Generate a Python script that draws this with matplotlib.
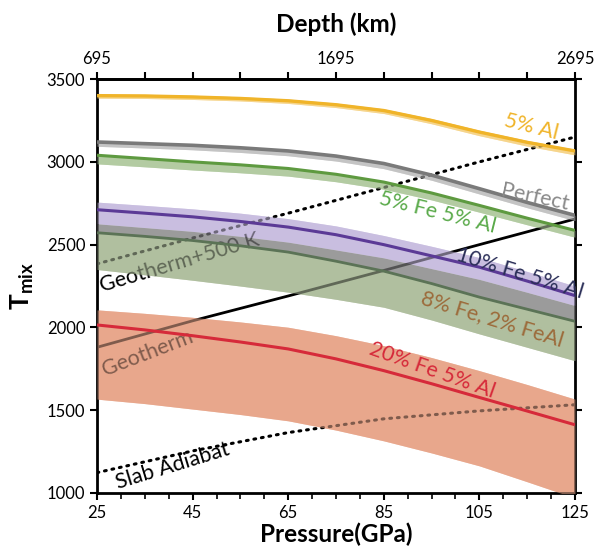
import numpy as np
import matplotlib
matplotlib.use("Agg")
import matplotlib.pyplot as plt

plt.rcParams["font.family"] = ["Lato", "DejaVu Sans"]
plt.rcParams["mathtext.fontset"] = "custom"
plt.rcParams["mathtext.bf"] = "Lato:bold"
plt.rcParams["mathtext.rm"] = "Lato"

# ======================
# Data
# ======================
P = [25, 35, 45, 55, 65, 75, 85, 95, 105, 115, 125]

al5 = [3400, 3398, 3392, 3383, 3369, 3345, 3310, 3250, 3180, 3118, 3066]
al5_hi = [3410, 3408, 3402, 3393, 3379, 3355, 3320, 3261, 3191, 3129, 3076]
al5_lo = [3385, 3383, 3377, 3368, 3353, 3328, 3292, 3230, 3158, 3095, 3042]

perfect = [3120, 3110, 3100, 3085, 3066, 3035, 2990, 2920, 2838, 2755, 2677]
perfect_lo = [3094, 3084, 3073, 3057, 3037, 3005, 2959, 2889, 2806, 2723, 2645]

fe5al5 = [3040, 3020, 3000, 2982, 2960, 2925, 2878, 2812, 2737, 2660, 2586]
fe5al5_lo = [2988, 2970, 2951, 2934, 2914, 2880, 2835, 2770, 2696, 2620, 2545]

fe10al5 = [2711, 2690, 2668, 2640, 2606, 2560, 2500, 2432, 2364, 2280, 2192]
fe10al5_hi = [2757, 2737, 2716, 2690, 2657, 2613, 2555, 2490, 2422, 2338, 2250]
fe10al5_lo = [2626, 2603, 2580, 2550, 2515, 2468, 2420, 2355, 2290, 2212, 2132]

fe8 = [2572, 2550, 2525, 2493, 2455, 2400, 2340, 2265, 2183, 2110, 2037]
fe8_lo = [2350, 2318, 2285, 2250, 2213, 2170, 2122, 2045, 1961, 1880, 1799]

fe20al5 = [2015, 1985, 1950, 1912, 1870, 1810, 1739, 1660, 1577, 1495, 1412]
fe20al5_hi = [2106, 2085, 2061, 2033, 2001, 1950, 1890, 1818, 1739, 1655, 1567]
fe20al5_lo = [1567, 1540, 1507, 1474, 1436, 1380, 1315, 1242, 1164, 1068, 970]

P_geo = [25, 45, 65, 85, 105, 125]
geotherm = [1880, 2040, 2190, 2344, 2500, 2655]
geotherm500 = [2384, 2540, 2690, 2845, 3000, 3150]
slab = [1123, 1254, 1365, 1448, 1496, 1533]

# ======================
# Figure
# ======================
fig = plt.figure(figsize=(6, 5.53), dpi=100)
ax = fig.add_axes([0.1617, 0.1085, 0.7966, 0.7485])

LBL = 15.5

# geotherms sit under the translucent bands
ax.plot(P_geo, geotherm, color="black", lw=2.0, zorder=2, solid_capstyle="butt")
ax.plot(P_geo, geotherm500, color="black", lw=2.2, ls=(0, (0.6, 1.9)),
        dash_capstyle="round", zorder=2)
ax.plot(P_geo, slab, color="black", lw=2.2, ls=(0, (0.6, 1.9)),
        dash_capstyle="round", zorder=2)

ax.text(42.2, 2392, "Geotherm+500 K", fontsize=LBL, rotation=16.5,
        ha="center", va="center", color="black", zorder=2)
ax.text(35.5, 1847, "Geotherm", fontsize=LBL, rotation=21,
        ha="center", va="center", color="black", zorder=2)
ax.text(40.9, 1163, "Slab Adiabat", fontsize=LBL, rotation=17,
        ha="center", va="center", color="black", zorder=5)

bands = [
    (al5_lo, al5_hi, "#F6D58C"),
    (perfect_lo, perfect, "#C4C4C4"),
    (fe5al5_lo, fe5al5, "#B3CBA2"),
    (fe10al5_lo, fe10al5_hi, "#C9BEE0"),
    (fe8, fe10al5_lo, "#9B9B9B"),
    (fe8_lo, fe8, "#B0BF9F"),
    (fe20al5_lo, fe20al5_hi, "#E8A78C"),
]
for lo, hi, c in bands:
    ax.fill_between(P, lo, hi, color=c, lw=0, zorder=1)
    ax.fill_between(P, lo, hi, color=c, lw=0, alpha=0.55, zorder=3)

curves = [
    (al5, "#F0B429", 2.4),
    (perfect, "#7A7A7A", 2.6),
    (fe5al5, "#5E9A40", 2.2),
    (fe10al5, "#5B3A96", 2.2),
    (fe8, "#5B7356", 2.0),
    (fe20al5, "#D62A3A", 2.2),
]
for y, c, w in curves:
    ax.plot(P, y, color=c, lw=w, zorder=4, solid_capstyle="butt")

labels = [
    (115.8, 3209, "5% Al", "#F0B429", -14),
    (116.6, 2786, "Perfect", "#8A8A8A", -12),
    (96.3, 2695, "5% Fe 5% Al", "#5AAA4A", -14),
    (113.5, 2326, "10% Fe 5% Al", "#2B2F58", -17),
    (107.6, 2053, "8% Fe, 2% FeAl", "#9C6B3B", -17),
    (95.1, 1738, "20% Fe 5% Al", "#D62A3A", -19.5),
]
for x, y, s, c, r in labels:
    ax.text(x, y, s, fontsize=LBL, color=c, rotation=r,
            ha="center", va="center", zorder=5, clip_on=False)

# ======================
# Axes styling
# ======================
ax.set_xlim(25, 125)
ax.set_ylim(1000, 3500)
ax.set_xticks([25, 45, 65, 85, 105, 125])
ax.set_xticks(np.arange(25, 126, 5), minor=True)
ax.set_yticks([1000, 1500, 2000, 2500, 3000, 3500])

for s in ax.spines.values():
    s.set_linewidth(2.0)

ax.tick_params(axis="both", which="major", labelsize=12, length=5,
               width=1.5, direction="out")
ax.tick_params(axis="x", which="minor", length=4, width=1.2, direction="out")
ax.tick_params(axis="y", right=True, which="major")

ax.set_xlabel("Pressure(GPa)", fontsize=17.5, fontweight="bold", labelpad=1)
ax.set_ylabel(r"$\mathbf{T}_{\mathbf{mix}}$", fontsize=19, labelpad=8)

top = ax.secondary_xaxis("top", functions=(lambda p: 695 + (p - 25) * 20,
                                           lambda d: 25 + (d - 695) / 20))
top.set_xticks([695, 1695, 2695])
top.set_xticks(np.arange(695, 2696, 200), minor=True)
top.tick_params(which="major", labelsize=12, length=5, width=1.5)
top.tick_params(which="minor", length=5, width=1.5)
top.spines["top"].set_linewidth(2.0)
top.set_xlabel("Depth (km)", fontsize=17.5, fontweight="bold", labelpad=14)

plt.savefig("out.png", dpi=100)
